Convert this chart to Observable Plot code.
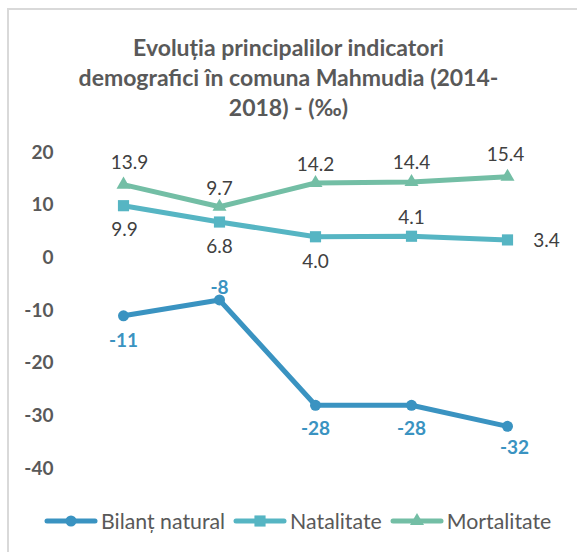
<!DOCTYPE html>
<html>
<head>
<meta charset="utf-8">
<script src="https://cdn.jsdelivr.net/npm/d3@7"></script>
<script src="https://cdn.jsdelivr.net/npm/@observablehq/plot@0.6"></script>
<style>
  html, body { margin: 0; padding: 0; background: #fff; }
  #wrap { position: relative; width: 577px; height: 552px; overflow: hidden; background: #fff; font-family: Lato, "Open Sans", sans-serif; }
  #frame { position: absolute; left: 7px; top: 8px; width: 600px; height: 600px; border-left: 2px solid #d9d9d9; border-top: 2px solid #d9d9d9; }
  #title { position: absolute; left: 0; top: 32px; width: 577px; text-align: center; font-weight: bold; font-size: 23px; line-height: 30px; color: #595959; }
  #chart { position: absolute; left: 0; top: 130px; }
  #legend { position: absolute; left: 44px; top: 509px; display: flex; align-items: center; height: 24px; }
  .item { display: flex; align-items: center; margin-right: 8px; }
  .item span { font-size: 21.3px; color: #595959; margin-left: 3px; }
</style>
</head>
<body>
<div id="wrap">
  <div id="frame"></div>
  <div id="title">Evoluția principalilor indicatori<br>demografici în comuna Mahmudia (2014-<br>2018) - (‰)</div>
  <div id="chart"></div>
  <div id="legend"></div>
</div>
<script>
const years = ["2014", "2015", "2016", "2017", "2018"];
const bilant = [-11, -8, -28, -28, -32];
const natalitate = [9.9, 6.8, 4.0, 4.1, 3.4];
const mortalitate = [13.9, 9.7, 14.2, 14.4, 15.4];
const seriesNames = ["Bilanț natural", "Natalitate", "Mortalitate"];
const yTicks = [20, 10, 0, -10, -20, -30, -40];

const colors = ["#3a93c1", "#56b5c3", "#73bea5"];
const symbols = ["circle", "square", "triangle"];
const radii = [5.5, 6.3, 5.2];

const hy = f => v => f(v).replace("\u2212", "-");
const values = [bilant, natalitate, mortalitate];
const formats = [hy(d3.format("d")), hy(d3.format(".1f")), hy(d3.format(".1f"))];
const tables = values.map((vals, s) => vals.map((v, i) => ({year: years[i], value: v, i, label: formats[s](v)})));

// label offsets [dx, dy] per series per point (layout)
const offsets = [
  [[0, 25], [0, -12], [0, 24], [0, 24], [7, 22]],
  [[1, 24], [0, 25], [0, 25], [0, -18], [39, 1]],
  [[6, -22], [0, -18], [0, -18], [0, -19], [-2, -22]]
];

const marks = [
  Plot.axisY({ticks: yTicks, tickSize: 0, tickPadding: 22, fontSize: 19, fontWeight: "bold", fill: "#595959", tickFormat: hy(d3.format("d")), label: null})
];
tables.forEach((t, s) => {
  marks.push(Plot.line(t, {x: "year", y: "value", stroke: colors[s], strokeWidth: 5, strokeLinejoin: "round", strokeLinecap: "round"}));
  marks.push(Plot.dot(t, {x: "year", y: "value", symbol: symbols[s], r: radii[s], fill: colors[s], stroke: "none"}));
});
tables.forEach((t, s) => {
  offsets[s].forEach((o, k) => {
    marks.push(Plot.text(t, {
      filter: d => d.i === k, x: "year", y: "value", text: "label",
      dx: o[0], dy: o[1], fontSize: 19,
      fontWeight: s === 0 ? "bold" : "normal",
      fill: s === 0 ? colors[0] : "#404040"
    }));
  });
});

const chart = Plot.plot({
  width: 577, height: 360,
  marginLeft: 75, marginRight: 22, marginTop: 22, marginBottom: 22,
  style: {fontFamily: "Lato, 'Open Sans', sans-serif", background: "transparent", overflow: "visible"},
  x: {type: "point", domain: years, padding: 0.5, axis: null},
  y: {domain: [-40, 20]},
  marks
});
document.getElementById("chart").appendChild(chart);

// legend
const legend = document.getElementById("legend");
seriesNames.forEach((name, s) => {
  const item = document.createElement("div");
  item.className = "item";
  const sw = d3.create("svg").attr("width", 54).attr("height", 20);
  sw.append("line").attr("x1", 3).attr("x2", 51).attr("y1", 10).attr("y2", 10)
    .attr("stroke", colors[s]).attr("stroke-width", 5).attr("stroke-linecap", "round");
  sw.append("path").attr("transform", "translate(27,10)")
    .attr("d", d3.symbol(s === 0 ? d3.symbolCircle : s === 1 ? d3.symbolSquare : d3.symbolTriangle, Math.PI * radii[s] * radii[s])())
    .attr("fill", colors[s]);
  item.appendChild(sw.node());
  const sp = document.createElement("span");
  sp.textContent = name;
  item.appendChild(sp);
  legend.appendChild(item);
});
</script>
</body>
</html>
